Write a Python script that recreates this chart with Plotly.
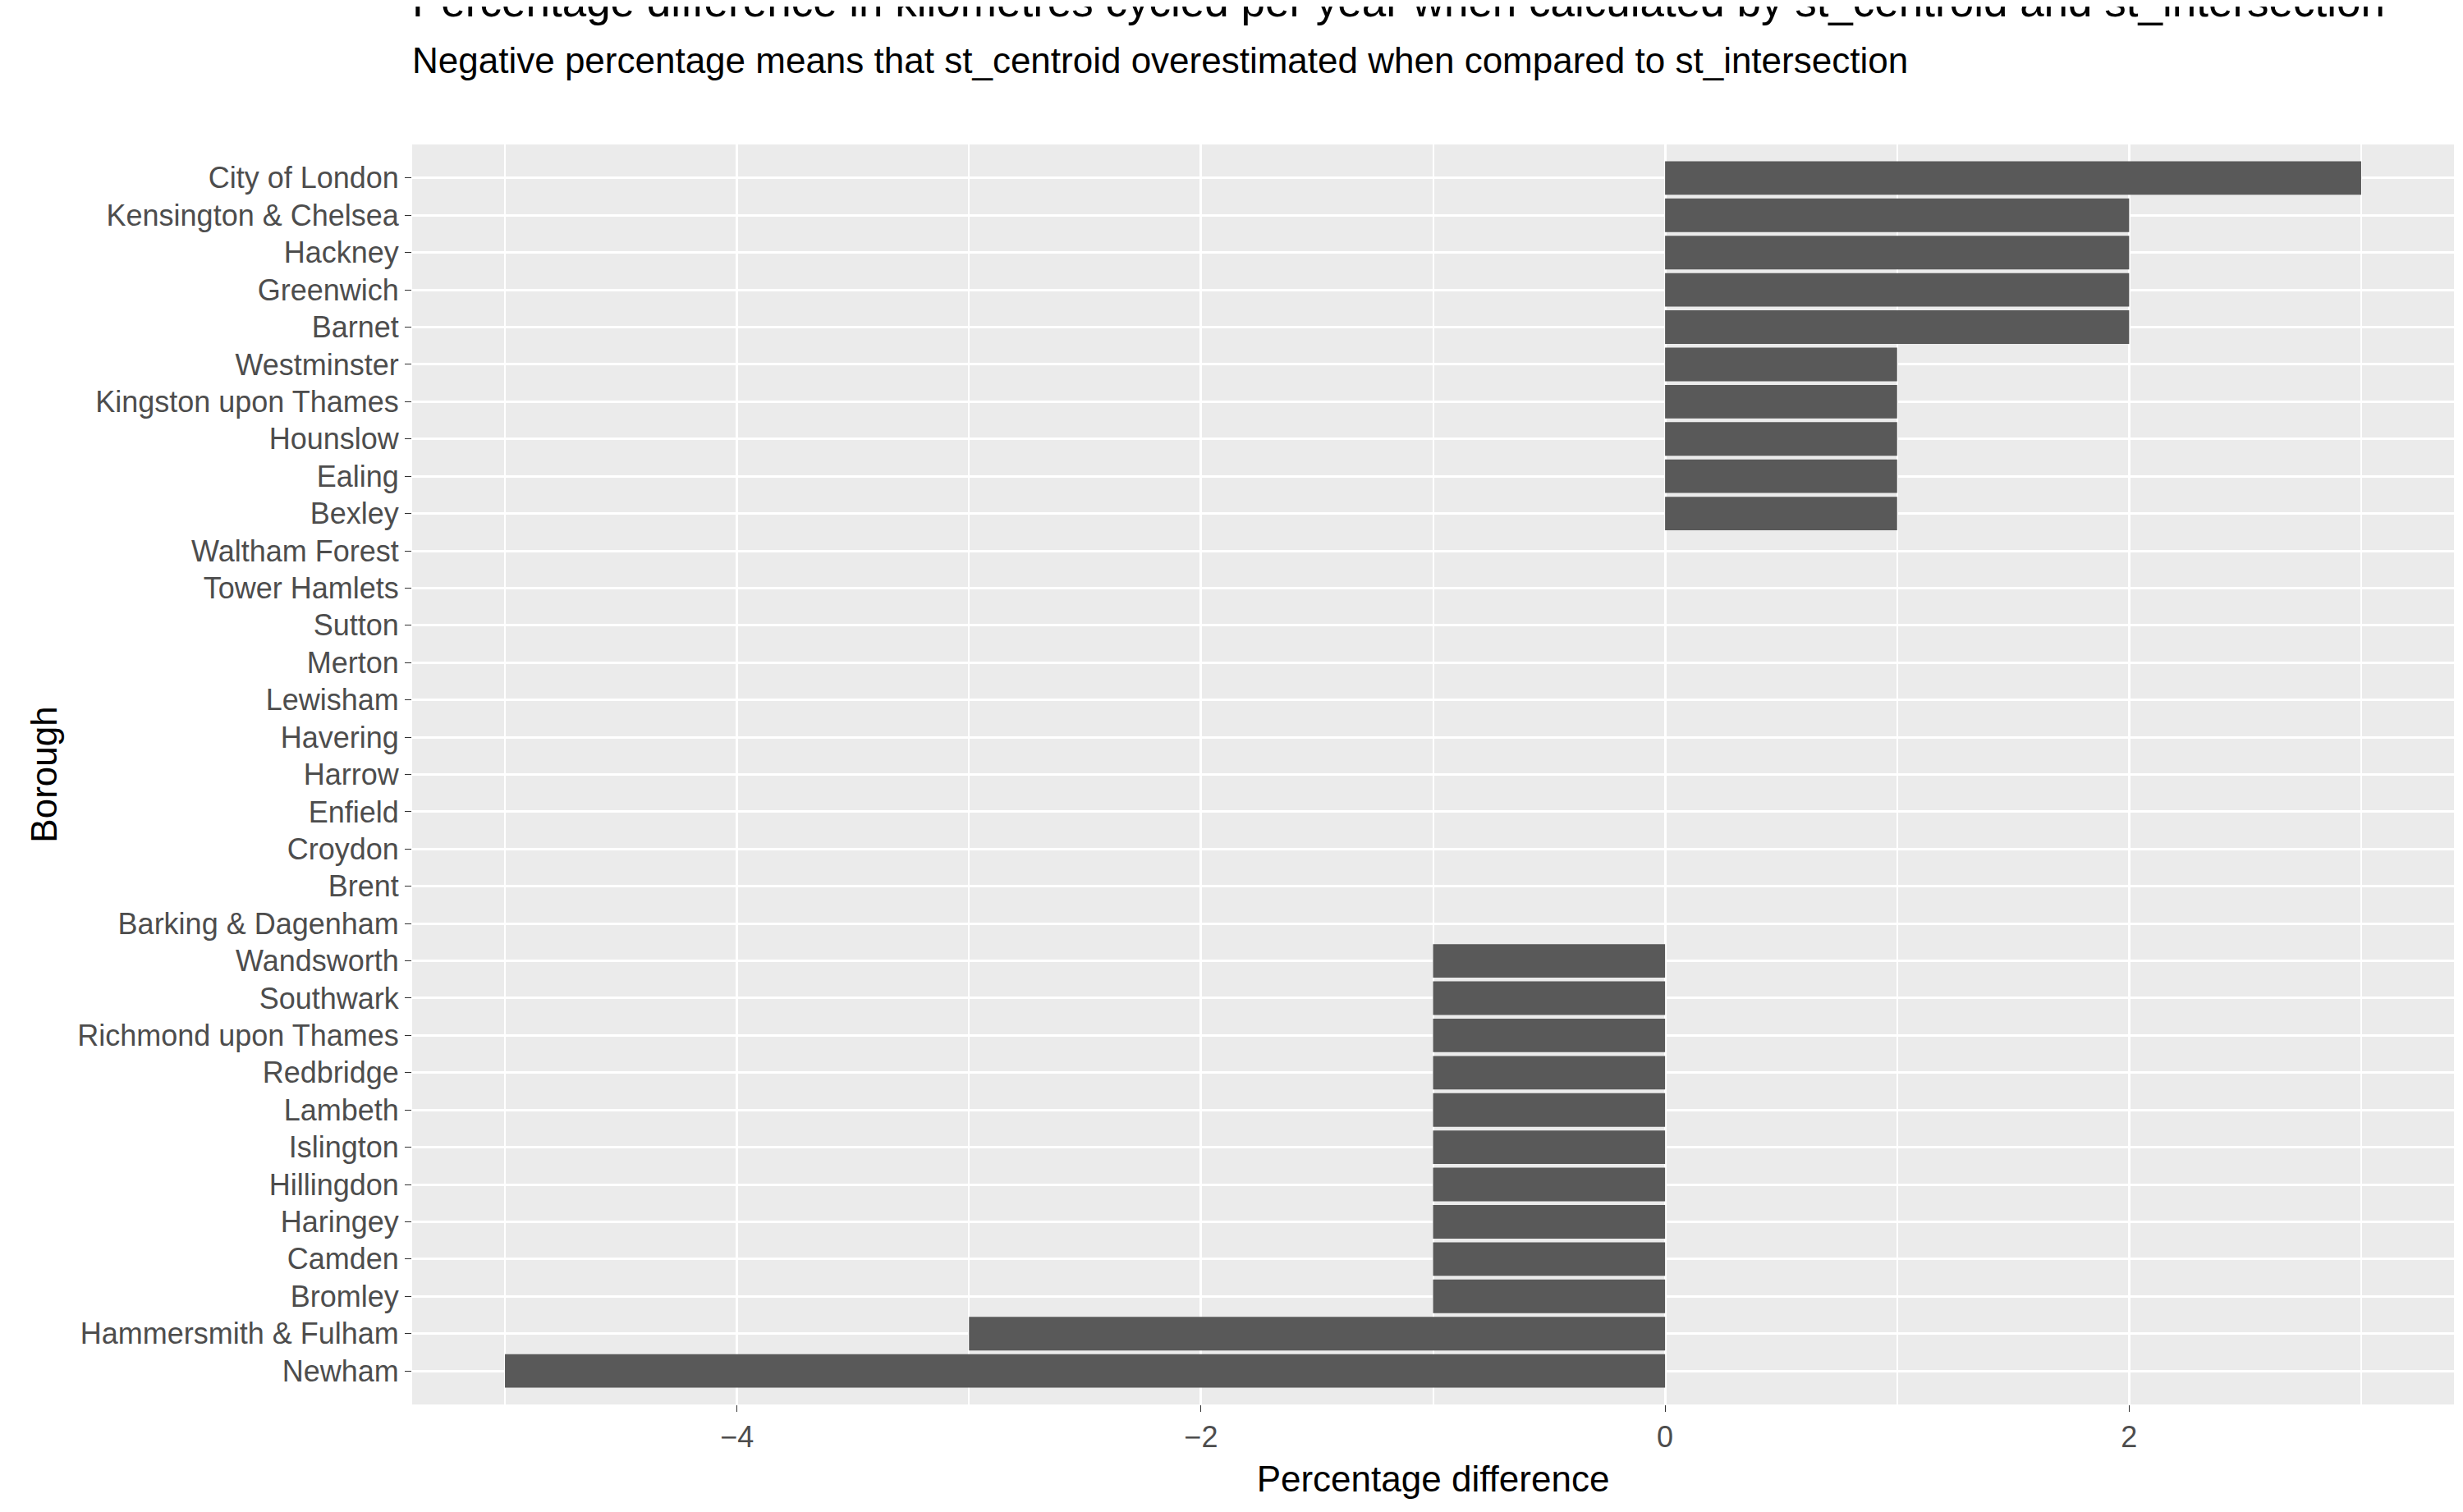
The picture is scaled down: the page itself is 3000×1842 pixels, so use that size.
import plotly.graph_objects as go

boroughs = ["City of London","Kensington & Chelsea","Hackney","Greenwich","Barnet","Westminster",
 "Kingston upon Thames","Hounslow","Ealing","Bexley","Waltham Forest","Tower Hamlets","Sutton",
 "Merton","Lewisham","Havering","Harrow","Enfield","Croydon","Brent","Barking & Dagenham",
 "Wandsworth","Southwark","Richmond upon Thames","Redbridge","Lambeth","Islington","Hillingdon",
 "Haringey","Camden","Bromley","Hammersmith & Fulham","Newham"]
pct_diff = [3,2,2,2,2,1,1,1,1,1,0,0,0,0,0,0,0,0,0,0,0,-1,-1,-1,-1,-1,-1,-1,-1,-1,-1,-3,-5]

ys = boroughs[::-1]
xs = pct_diff[::-1]

fig = go.Figure(go.Bar(x=xs, y=ys, orientation="h", marker=dict(color="#595959", line_width=0)))

font = "Liberation Sans, Arial, sans-serif"
fig.update_layout(
    width=3000, height=1842, paper_bgcolor="white", plot_bgcolor="#EBEBEB",
    bargap=0.1, showlegend=False,
    margin=dict(l=494, r=19, t=168, b=139, autoexpand=False),
    font=dict(family=font, color="#4D4D4D", size=36),
    title=dict(text="Percentage difference in kilometres cycled per year when calculated by st_centroid and st_intersection"
               "<br><span style='font-size:44px'>Negative percentage means that st_centroid overestimated when compared to st_intersection</span>",
               x=494/3000, xanchor="left", yref="container", y=1-12/1842, yanchor="top",
               font=dict(size=53, color="black")),
    xaxis=dict(range=[-5.4, 3.4], tickvals=[-4,-2,0,2], ticks="outside", ticklen=8, tickcolor="#333",
               gridcolor="white", gridwidth=3, zeroline=False,
               minor=dict(tickvals=[-5,-3,-1,1,3], gridcolor="white", gridwidth=1.5, showgrid=True),
               title=dict(text="Percentage difference", font=dict(size=44, color="black"), standoff=15),
               tickfont=dict(size=36, color="#4D4D4D")),
    yaxis=dict(categoryorder="array", categoryarray=ys, ticks="outside", ticklen=8, tickcolor="#333",
               gridcolor="white", gridwidth=3, range=[-0.9, 32.9],
               title=dict(text="Borough", font=dict(size=44, color="black"), standoff=10),
               tickfont=dict(size=36, color="#4D4D4D")),
)
fig.write_html("out.html")
